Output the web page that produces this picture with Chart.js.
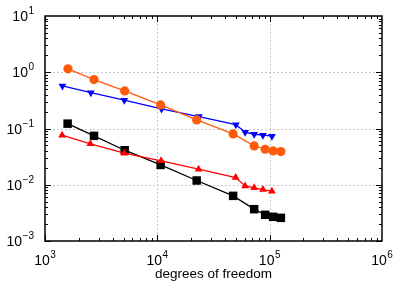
<!DOCTYPE html>
<html>
<head>
<meta charset="utf-8">
<script src="https://cdn.jsdelivr.net/npm/chart.js@4"></script>
<style>
  body { margin: 0; background: #fff; }
</style>
</head>
<body>
<canvas id="chart" width="407" height="285"></canvas>
<script>
// values (log-log)
const orangeX = [1600, 2730, 5120, 10700, 22400, 47300, 72800, 91200, 107400, 125800];
const orangeY = [1.15, 0.74, 0.466, 0.262, 0.142, 0.080, 0.049, 0.0428, 0.040, 0.0389];
const blueX = [1430, 2560, 5080, 10900, 23400, 50000, 60500, 72800, 87100, 104700];
const blueY = [0.571, 0.434, 0.318, 0.223, 0.163, 0.117, 0.086, 0.079, 0.076, 0.073];
const redX = [1420, 2530, 5080, 10800, 23300, 49800, 60500, 72800, 87100, 104700];
const redY = [0.076, 0.0533, 0.0364, 0.0266, 0.0189, 0.0134, 0.0095, 0.0088, 0.0082, 0.0077];
const blackX = [1590, 2730, 5120, 10700, 22400, 47300, 72800, 91200, 107400, 125800];
const blackY = [0.122, 0.074, 0.0411, 0.0225, 0.0119, 0.00635, 0.00368, 0.00292, 0.00269, 0.00258];

const xExps = [3, 4, 5, 6];
const yExps = [-3, -2, -1, 0, 1];
const xTitle = "degrees of freedom";

function pts(xs, ys) {
    return xs.map((x, i) => ({ x: x, y: ys[i] }));
}

function series(xs, ys, color, style, radius, rotation) {
    return {
        data: pts(xs, ys),
        borderColor: color,
        backgroundColor: color,
        borderWidth: 1.3,
        pointStyle: style,
        pointRadius: radius,
        pointRotation: rotation || 0,
        pointBorderWidth: 0,
        tension: 0
    };
}

// frame, grid, inward ticks and 10^n labels
const logAxes = {
    id: 'logAxes',
    beforeDatasetsDraw(chart) {
        const ctx = chart.ctx;
        const a = chart.chartArea;
        const xs = chart.scales.x, ys = chart.scales.y;
        ctx.save();
        ctx.strokeStyle = '#c8c8c8';
        ctx.lineWidth = 1;
        ctx.setLineDash([2, 2]);
        xExps.slice(1, -1).forEach(e => {
            const px = Math.round(xs.getPixelForValue(Math.pow(10, e))) + 0.5;
            ctx.beginPath(); ctx.moveTo(px, a.top); ctx.lineTo(px, a.bottom); ctx.stroke();
        });
        yExps.slice(1, -1).forEach(e => {
            const py = Math.round(ys.getPixelForValue(Math.pow(10, e))) + 0.5;
            ctx.beginPath(); ctx.moveTo(a.left, py); ctx.lineTo(a.right, py); ctx.stroke();
        });
        ctx.restore();
    },
    afterDraw(chart) {
        const ctx = chart.ctx;
        const a = chart.chartArea;
        const xs = chart.scales.x, ys = chart.scales.y;
        ctx.save();
        ctx.strokeStyle = '#000';
        ctx.lineWidth = 1;
        // minor + major ticks, inward, on all four sides
        for (let e = xExps[0]; e < xExps[xExps.length - 1]; e++) {
            for (let m = 1; m <= 9; m++) {
                const len = m === 1 ? 6 : 3;
                const px = Math.round(xs.getPixelForValue(m * Math.pow(10, e))) + 0.5;
                ctx.beginPath();
                ctx.moveTo(px, a.bottom); ctx.lineTo(px, a.bottom - len);
                ctx.moveTo(px, a.top); ctx.lineTo(px, a.top + len);
                ctx.stroke();
            }
        }
        for (let e = yExps[0]; e < yExps[yExps.length - 1]; e++) {
            for (let m = 1; m <= 9; m++) {
                const len = m === 1 ? 6 : 3;
                const py = Math.round(ys.getPixelForValue(m * Math.pow(10, e))) + 0.5;
                ctx.beginPath();
                ctx.moveTo(a.left, py); ctx.lineTo(a.left + len, py);
                ctx.moveTo(a.right, py); ctx.lineTo(a.right - len, py);
                ctx.stroke();
            }
        }
        ctx.lineWidth = 1.5;
        ctx.strokeRect(a.left, a.top, a.right - a.left, a.bottom - a.top);

        ctx.fillStyle = '#000';
        const big = '14px "Liberation Sans", Arial, sans-serif';
        const small = '10px "Liberation Sans", Arial, sans-serif';
        function label(e, cx, cy, align) {
            ctx.font = big;
            const w1 = ctx.measureText('10').width;
            ctx.font = small;
            const sup = String(e).replace('-', '\u2212');
            const w2 = ctx.measureText(sup).width;
            const w = w1 + w2 + 0.5;
            let x0 = align === 'right' ? cx - w : cx - w / 2;
            ctx.textBaseline = 'alphabetic';
            ctx.textAlign = 'left';
            ctx.font = big;
            ctx.fillText('10', x0, cy + 5);
            ctx.font = small;
            ctx.fillText(sup, x0 + w1 + 0.5, cy - 2);
        }
        xExps.forEach(e => {
            label(e, xs.getPixelForValue(Math.pow(10, e)), a.bottom + 19, 'center');
        });
        yExps.forEach(e => {
            label(e, a.left - 11, ys.getPixelForValue(Math.pow(10, e)), 'right');
        });
        ctx.font = '13.5px "Liberation Sans", Arial, sans-serif';
        ctx.textAlign = 'center';
        ctx.textBaseline = 'alphabetic';
        ctx.fillText(xTitle, (a.left + a.right) / 2, 278);
        ctx.restore();
    }
};

new Chart(document.getElementById('chart'), {
    type: 'line',
    data: {
        datasets: [
            series(orangeX, orangeY, '#ff5a0a', 'circle', 4.6),
            series(blueX, blueY, '#0000ff', 'triangle', 4.5, 180),
            series(redX, redY, '#ff0000', 'triangle', 4.5),
            series(blackX, blackY, '#000000', 'rect', 6)
        ]
    },
    options: {
        responsive: false,
        animation: false,
        layout: { padding: { left: 45, right: 25, top: 16, bottom: 44 } },
        plugins: { legend: { display: false }, tooltip: { enabled: false } },
        scales: {
            x: { type: 'logarithmic', min: 1000, max: 1000000, display: false },
            y: { type: 'logarithmic', min: 0.001, max: 10, display: false }
        }
    },
    plugins: [logAxes]
});
</script>
</body>
</html>
